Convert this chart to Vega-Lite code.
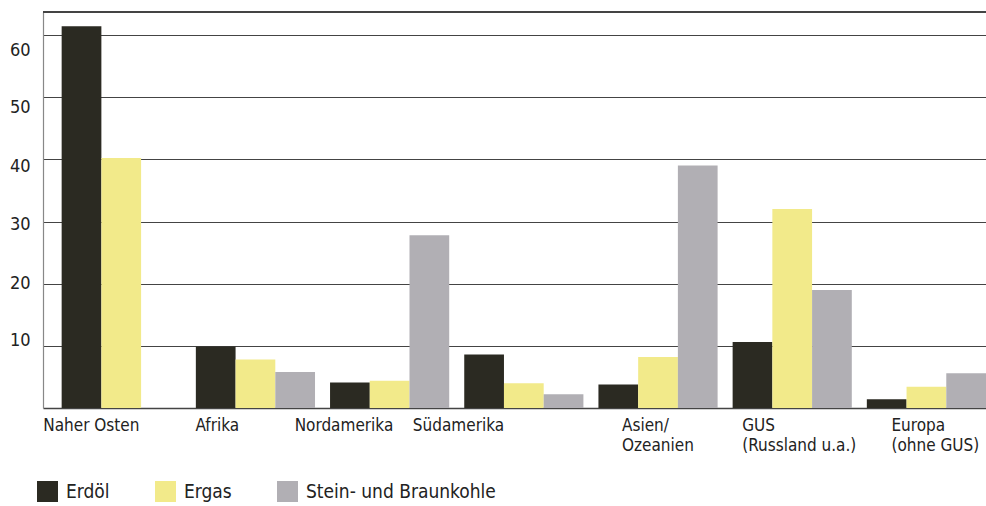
{
  "$schema": "https://vega.github.io/schema/vega-lite/v6.json",
  "width": 943,
  "height": 396,
  "autosize": {"type": "none"},
  "padding": {"left": 43, "top": 12, "right": 0, "bottom": 98},
  "background": "white",
  "config": {
    "view": {"stroke": null},
    "font": "'DejaVu Sans Condensed', Roboto, sans-serif",
    "axis": {"labelFont": "'DejaVu Sans Condensed', Roboto, sans-serif"},
    "legend": {"labelFont": "'DejaVu Sans Condensed', Roboto, sans-serif"}
  },
  "data": {
    "values": [
      {"Region": "Naher Osten", "Energie": "Erdöl", "Wert": 61.4},
      {"Region": "Naher Osten", "Energie": "Ergas", "Wert": 40.2},
      {"Region": "Afrika", "Energie": "Erdöl", "Wert": 9.9},
      {"Region": "Afrika", "Energie": "Ergas", "Wert": 7.8},
      {"Region": "Afrika", "Energie": "Stein- und Braunkohle", "Wert": 5.8},
      {"Region": "Nordamerika", "Energie": "Erdöl", "Wert": 4.1},
      {"Region": "Nordamerika", "Energie": "Ergas", "Wert": 4.4},
      {"Region": "Nordamerika", "Energie": "Stein- und Braunkohle", "Wert": 27.8},
      {"Region": "Südamerika", "Energie": "Erdöl", "Wert": 8.6},
      {"Region": "Südamerika", "Energie": "Ergas", "Wert": 4.0},
      {"Region": "Südamerika", "Energie": "Stein- und Braunkohle", "Wert": 2.2},
      {"Region": "Asien/|Ozeanien", "Energie": "Erdöl", "Wert": 3.8},
      {"Region": "Asien/|Ozeanien", "Energie": "Ergas", "Wert": 8.2},
      {"Region": "Asien/|Ozeanien", "Energie": "Stein- und Braunkohle", "Wert": 39.0},
      {"Region": "GUS|(Russland u.a.)", "Energie": "Erdöl", "Wert": 10.6},
      {"Region": "GUS|(Russland u.a.)", "Energie": "Ergas", "Wert": 32.0},
      {"Region": "GUS|(Russland u.a.)", "Energie": "Stein- und Braunkohle", "Wert": 19.0},
      {"Region": "Europa|(ohne GUS)", "Energie": "Erdöl", "Wert": 1.4},
      {"Region": "Europa|(ohne GUS)", "Energie": "Ergas", "Wert": 3.4},
      {"Region": "Europa|(ohne GUS)", "Energie": "Stein- und Braunkohle", "Wert": 5.6}
    ]
  },
  "layer": [
    {
      "mark": {"type": "bar"},
      "encoding": {
        "x": {
          "field": "Region",
          "type": "nominal",
          "sort": ["Naher Osten", "Afrika", "Nordamerika", "Südamerika", "Asien/|Ozeanien", "GUS|(Russland u.a.)", "Europa|(ohne GUS)"],
          "scale": {"paddingInner": 0.112, "paddingOuter": 0.0695, "align": 1},
          "title": null,
          "axis": {
            "labelAngle": 0,
            "labelExpr": "split(datum.label, '|')",
            "labelAlign": "left",
            "labelBaseline": "top",
            "labelFontSize": 17,
            "labelLineHeight": 20,
            "labelColor": "#222222",
            "labelPadding": 9,
            "labelOffset": {"expr": "datum.value == 'Naher Osten' ? -78 : datum.value == 'Afrika' ? -60 : datum.value == 'Nordamerika' ? -95 : datum.value == 'Südamerika' ? -111 : datum.value == 'Asien/|Ozeanien' ? -36 : datum.value == 'GUS|(Russland u.a.)' ? -50 : -35"},
            "ticks": false,
            "domainColor": "#444444",
            "domainWidth": 1.5,
            "labelLimit": 0
          }
        },
        "xOffset": {
          "field": "Energie",
          "type": "nominal",
          "sort": ["Erdöl", "Ergas", "Stein- und Braunkohle"],
          "scale": {"domain": ["Erdöl", "Ergas", "Stein- und Braunkohle"], "paddingInner": 0, "paddingOuter": 0}
        },
        "y": {
          "field": "Wert",
          "type": "quantitative",
          "scale": {"domain": [0, 63.7], "nice": false, "zero": true},
          "title": null,
          "axis": {
            "values": [10, 20, 30, 40, 50, 60],
            "grid": true,
            "gridColor": "#444444",
            "gridWidth": 1.2,
            "ticks": false,
            "domainColor": "#888888",
            "domainWidth": 1.2,
            "labelFontSize": 18,
            "labelColor": "#222222",
            "labelPadding": 13,
            "labelOffset": {"expr": "datum.value == 60 ? 15 : datum.value == 50 ? 10.5 : datum.value == 40 ? 7.5 : datum.value == 30 ? 2.5 : datum.value == 20 ? 0 : -5.5"}
          }
        },
        "color": {
          "field": "Energie",
          "type": "nominal",
          "scale": {"domain": ["Erdöl", "Ergas", "Stein- und Braunkohle"], "range": ["#2b2a22", "#f2ea8a", "#b1afb4"]},
          "legend": {
            "title": null,
            "orient": "none",
            "legendX": -6,
            "legendY": 469,
            "direction": "horizontal",
            "symbolType": "square",
            "symbolSize": 441,
            "symbolStrokeWidth": 0,
            "labelFontSize": 19,
            "labelColor": "#222222",
            "labelOffset": 8,
            "labelLimit": 0,
            "columnPadding": 45
          }
        }
      }
    },
    {
      "mark": {"type": "rule", "color": "#444444", "strokeWidth": 1.2},
      "encoding": {"y": {"datum": 63.7}}
    }
  ]
}
